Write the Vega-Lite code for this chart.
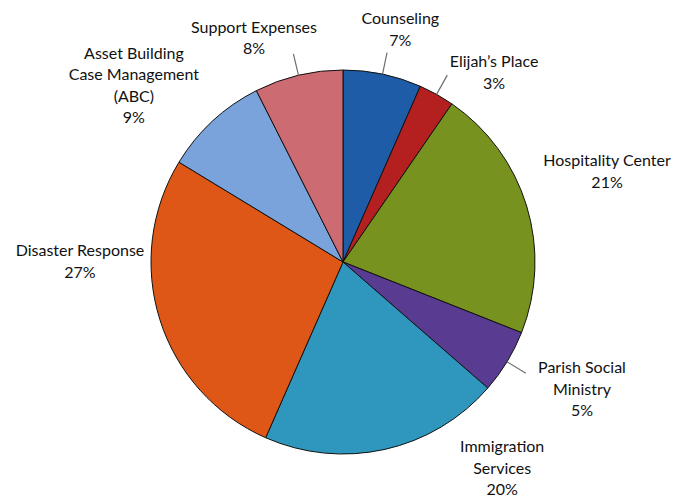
{
  "$schema": "https://vega.github.io/schema/vega-lite/v6.json",
  "width": 682,
  "height": 476,
  "autosize": "none",
  "padding": {"left": 2, "top": 24, "right": 0, "bottom": 0},
  "background": "white",
  "config": {"view": {"stroke": null}},
  "data": {
    "values": [
      {"category": "Counseling", "value": 6.6, "order": 1, "label": ["Counseling", "7%"]},
      {"category": "Elijah’s Place", "value": 3.0, "order": 2, "label": ["Elijah’s Place", "3%"]},
      {"category": "Hospitality Center", "value": 21.4, "order": 3, "label": ["Hospitality Center", "21%"]},
      {"category": "Parish Social Ministry", "value": 5.4, "order": 4, "label": ["Parish Social", "Ministry", "5%"]},
      {"category": "Immigration Services", "value": 20.2, "order": 5, "label": ["Immigration", "Services", "20%"]},
      {"category": "Disaster Response", "value": 27.1, "order": 6, "label": ["Disaster Response", "27%"]},
      {"category": "Asset Building Case Management (ABC)", "value": 8.85, "order": 7, "label": ["Asset Building", "Case Management", "(ABC)", "9%"]},
      {"category": "Support Expenses", "value": 7.45, "order": 8, "label": ["Support Expenses", "8%"]}
    ]
  },
  "encoding": {
    "theta": {"field": "value", "type": "quantitative", "stack": true},
    "order": {"field": "order", "type": "quantitative"}
  },
  "layer": [
    {
      "mark": {"type": "arc", "radius": 192, "stroke": "#111111", "strokeWidth": 1},
      "encoding": {
        "color": {
          "field": "category",
          "type": "nominal",
          "scale": {
            "domain": ["Counseling", "Elijah’s Place", "Hospitality Center", "Parish Social Ministry", "Immigration Services", "Disaster Response", "Asset Building Case Management (ABC)", "Support Expenses"],
            "range": ["#1f5ca8", "#b3201f", "#77921f", "#5a3b92", "#2f97bd", "#df5716", "#7aa3dc", "#cd6b73"]
          },
          "legend": null
        }
      }
    },
    {
      "mark": {"type": "arc", "radius": 214, "radius2": 192, "padAngle": 3, "fill": null, "stroke": "#6e6e6e", "strokeWidth": 1.2},
      "encoding": {
        "strokeOpacity": {
          "condition": {"test": "indexof([1, 2, 4, 8], datum.order) >= 0", "value": 1},
          "value": 0
        }
      }
    },
    {
      "mark": {
        "type": "text",
        "radius": 230,
        "font": "Lato",
        "fontSize": 16,
        "lineHeight": 21.5,
        "align": "center",
        "baseline": "middle",
        "fill": "#111111",
        "dx": {"expr": "[10, 39, 44, 42.5, 109, -43.6, -53, -35.7][datum.order - 1]"},
        "dy": {"expr": "[-17.75, 1.25, -33.75, -13.5, -39, -79.75, -39.25, -10.75][datum.order - 1]"}
      },
      "encoding": {"text": {"field": "label"}}
    }
  ]
}
